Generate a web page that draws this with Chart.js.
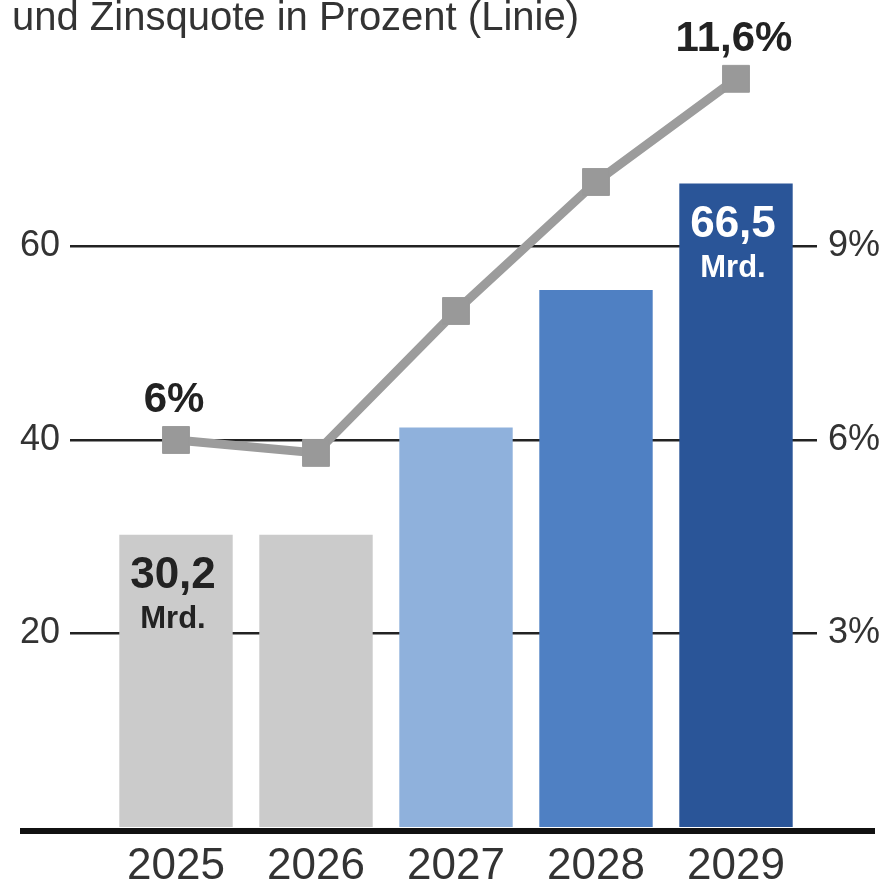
<!DOCTYPE html>
<html>
<head>
<meta charset="utf-8">
<script src="https://cdn.jsdelivr.net/npm/chart.js@4.4.1/dist/chart.umd.min.js"></script>
<style>
  body { margin: 0; background: #fff; }
  canvas { display: block; }
</style>
</head>
<body>
<canvas id="zinsChart" width="883" height="884"></canvas>
<script>
let years = ['2025', '2026', '2027', '2028', '2029'];
let zinsMrd = [30.2, 30.2, 41.3, 55.5, 66.5];
let zinsquote = [6.0, 5.8, 8.0, 10.0, 11.6];
let barColors = ['#cbcbcb', '#cbcbcb', '#8fb1dc', '#4f80c3', '#2a5598'];
let barLabels = ['30,2', '', '', '', '66,5'];
let barLabelColors = ['#222', '#222', '#222', '#222', '#fff'];
let lineLabels = ['6%', '', '', '', '11,6%'];
let leftTicks = [20, 40, 60];
let rightTicks = [3, 6, 9];
let titleText = 'und Zinsquote in Prozent (Linie)';

let font = '"Liberation Sans", Arial, sans-serif';

// title, thick baseline and value labels
let extras = {
  id: 'extras',
  afterDatasetsDraw(chart) {
    let ctx = chart.ctx;
    let x = chart.scales.x;
    let y = chart.scales.y;
    let y1 = chart.scales.y1;
    ctx.save();

    // baseline
    let y0 = y.getPixelForValue(0);
    ctx.fillStyle = '#111';
    ctx.fillRect(20, y0 + 1, 855, 6);

    ctx.textAlign = 'center';
    ctx.textBaseline = 'alphabetic';
    for (let i = 0; i < years.length; i++) {
      let cx = x.getPixelForValue(i);
      if (barLabels[i]) {
        let top = y.getPixelForValue(zinsMrd[i]);
        ctx.fillStyle = barLabelColors[i];
        ctx.font = 'bold 44px ' + font;
        ctx.fillText(barLabels[i], cx - 3, top + 53);
        ctx.font = 'bold 31px ' + font;
        ctx.fillText('Mrd.', cx - 3, top + 93);
      }
      if (lineLabels[i]) {
        let py = y1.getPixelForValue(zinsquote[i]);
        ctx.fillStyle = '#222';
        ctx.font = 'bold 42px ' + font;
        ctx.fillText(lineLabels[i], cx - 2, py - 28);
      }
    }

    // title (cut at top in original)
    ctx.textAlign = 'left';
    ctx.fillStyle = '#333';
    ctx.font = '40px ' + font;
    ctx.fillText(titleText, 12, 30);
    ctx.restore();
  }
};

new Chart(document.getElementById('zinsChart'), {
  data: {
    labels: years,
    datasets: [
      {
        type: 'line',
        label: 'Zinsquote',
        data: zinsquote,
        yAxisID: 'y1',
        order: 1,
        borderColor: '#9c9c9c',
        borderWidth: 9,
        tension: 0,
        pointStyle: 'rect',
        pointRadius: 19,
        pointBackgroundColor: '#999',
        pointBorderColor: '#999',
        pointBorderWidth: 1
      },
      {
        type: 'bar',
        label: 'Zinsausgaben',
        data: zinsMrd,
        yAxisID: 'y',
        order: 2,
        backgroundColor: barColors,
        borderWidth: 0,
        categoryPercentage: 1,
        barPercentage: 0.81
      }
    ]
  },
  options: {
    responsive: false,
    animation: false,
    devicePixelRatio: 1,
    layout: { padding: { top: 53, left: 0, right: 0, bottom: 0 } },
    plugins: {
      legend: { display: false },
      tooltip: { enabled: false }
    },
    scales: {
      x: {
        grid: { display: false },
        border: { display: false },
        ticks: { color: '#333', font: { family: font, size: 44 }, padding: 5 },
        afterFit(s) { s.height = 57; }
      },
      y: {
        position: 'left',
        min: 0,
        max: 80,
        afterBuildTicks(s) { s.ticks = leftTicks.map(v => ({ value: v })); },
        grid: { color: '#222', lineWidth: 2.5, tickLength: 36 },
        border: { display: false },
        ticks: { color: '#333', font: { family: font, size: 36 }, padding: 10 },
        afterFit(s) { s.width = 106; }
      },
      y1: {
        position: 'right',
        min: 0,
        max: 12,
        afterBuildTicks(s) { s.ticks = rightTicks.map(v => ({ value: v })); },
        grid: { drawOnChartArea: false, color: '#222', lineWidth: 2.5, tickLength: 11 },
        border: { display: false },
        ticks: {
          color: '#333',
          font: { family: font, size: 36 },
          padding: 11,
          callback: v => v + '%'
        },
        afterFit(s) { s.width = 77; }
      }
    }
  },
  plugins: [extras]
});
</script>
</body>
</html>
